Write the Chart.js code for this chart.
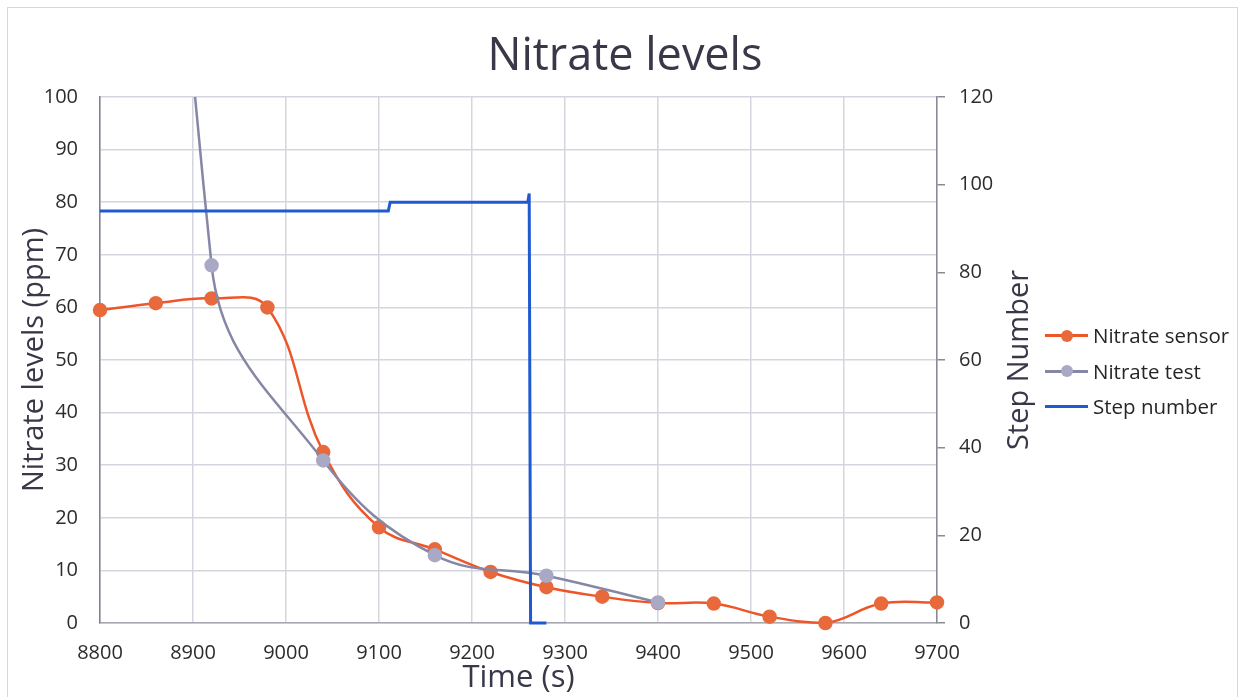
<!DOCTYPE html>
<html>
<head>
<meta charset="utf-8">
<title>Nitrate levels</title>
<script src="https://cdn.jsdelivr.net/npm/chart.js@4.4.1/dist/chart.umd.min.js"></script>
<style>
  html, body { margin: 0; padding: 0; background: #fff; }
  #wrap { position: relative; width: 1242px; height: 697px; overflow: hidden; }
  #frame { position: absolute; left: 7px; top: 7px; width: 1231px; height: 720px;
           border: 1.5px solid #d8d8dc; box-sizing: border-box; pointer-events: none; }
  canvas { position: absolute; left: 0; top: 0; }
  #legend { position: absolute; left: 1045px; top: 0; width: 197px;
            font-family: "Open Sans", "Liberation Sans", sans-serif; font-size: 20.5px; color: #262626; }
  .item { position: absolute; left: 0; height: 26px; width: 197px; white-space: nowrap; }
  .sym { position: absolute; left: 0; top: 12px; width: 43px; height: 3px; }
  .dot { position: absolute; left: 16px; top: 7.5px; width: 12px; height: 12px; border-radius: 50%; }
  .lbl { position: absolute; left: 48px; top: 0; line-height: 26px; }
</style>
</head>
<body>
<div id="wrap">
  <canvas id="chart" width="1242" height="697"></canvas>
  <div id="frame"></div>
  <div id="legend"></div>
</div>
<script>
// Nitrate sensor readings, every 60 s
const sensorTime = [8800, 8860, 8920, 8980, 9040, 9100, 9160, 9220, 9280, 9340, 9400, 9460, 9520, 9580, 9640, 9700];
const sensorNitrate = [59.5, 60.8, 61.7, 60.0, 32.5, 18.2, 14.0, 9.7, 6.8, 5.0, 3.8, 3.7, 1.2, 0.0, 3.7, 3.9];

// Manual nitrate test results, every 120 s
const testTime = [8800, 8920, 9040, 9160, 9280, 9400];
const testNitrate = [440, 68, 30.9, 12.9, 9.0, 3.9];

// Process step number (right axis)
const stepTime = [8800, 9110, 9112, 9260, 9261.5, 9263, 9280];
const stepNumber = [94, 94, 96, 96, 98, 0, 0];

// Axis ranges
const xRange = [8800, 9700, 100];
const leftRange = [0, 100, 10];
const rightRange = [0, 120, 20];

const FONT = '"Open Sans", "Liberation Sans", sans-serif';
const SENSOR_LINE = '#ee5528', SENSOR_DOT = '#e8693b';
const TEST_LINE = '#8686a6', TEST_DOT = '#a9a9c5';
const STEP_LINE = '#1f5ad0';
const GRID = '#d5d5e0';
const TICK_TEXT = '#2c2c2c';
const TITLE_TEXT = '#383848';

const pairs = (xs, ys) => xs.map((x, i) => ({ x: x, y: ys[i] }));

// Right-hand axis title reads bottom-to-top, like the left one
const rightTitle = {
  id: 'rightTitle',
  afterDraw(chart) {
    const { ctx, chartArea } = chart;
    ctx.save();
    ctx.translate(chartArea.right + 83, (chartArea.top + chartArea.bottom) / 2);
    ctx.rotate(-Math.PI / 2);
    ctx.font = '29px ' + FONT;
    ctx.fillStyle = TITLE_TEXT;
    ctx.textAlign = 'center';
    ctx.textBaseline = 'middle';
    ctx.fillText('Step Number', 0, 0);
    ctx.restore();
  }
};

const chart = new Chart(document.getElementById('chart'), {
  type: 'line',
  data: {
    datasets: [
      {
        label: 'Nitrate sensor',
        data: pairs(sensorTime, sensorNitrate),
        yAxisID: 'y',
        borderColor: SENSOR_LINE,
        backgroundColor: SENSOR_DOT,
        pointBackgroundColor: SENSOR_DOT,
        pointBorderColor: SENSOR_DOT,
        pointRadius: 6,
        borderWidth: 2.5,
        tension: 0.4,
        clip: false,
        order: 3
      },
      {
        label: 'Nitrate test',
        data: pairs(testTime, testNitrate),
        yAxisID: 'y',
        borderColor: TEST_LINE,
        backgroundColor: TEST_DOT,
        pointBackgroundColor: TEST_DOT,
        pointBorderColor: TEST_DOT,
        pointRadius: 6,
        borderWidth: 2.5,
        tension: 0.4,
        capBezierPoints: false,
        clip: { left: false, top: 0, right: false, bottom: false },
        order: 2
      },
      {
        label: 'Step number',
        data: pairs(stepTime, stepNumber),
        yAxisID: 'y2',
        borderColor: STEP_LINE,
        backgroundColor: STEP_LINE,
        pointRadius: 0,
        borderWidth: 3,
        tension: 0,
        clip: false,
        order: 1
      }
    ]
  },
  options: {
    responsive: false,
    animation: false,
    events: [],
    layout: { padding: { left: 8, right: 0, top: 0, bottom: 0 } },
    plugins: {
      legend: { display: false },
      tooltip: { enabled: false },
      title: {
        display: true,
        text: 'Nitrate levels',
        color: TITLE_TEXT,
        font: { family: FONT, size: 45, weight: 'normal', lineHeight: 1.2 },
        padding: { top: 30, bottom: 13 }
      }
    },
    scales: {
      x: {
        type: 'linear',
        min: xRange[0], max: xRange[1],
        ticks: {
          stepSize: xRange[2],
          color: TICK_TEXT,
          font: { family: FONT, size: 20 },
          padding: 18,
          maxRotation: 0,
          autoSkip: false,
          callback: v => String(v)
        },
        grid: { color: GRID, lineWidth: 1.5, drawTicks: false },
        border: { color: '#a8a8b2', width: 1.5 },
        title: {
          display: true, text: 'Time (s)', color: TITLE_TEXT,
          font: { family: FONT, size: 31 }, padding: { top: 0, bottom: 0 }
        },
        afterFit: s => { s.height = 74; }
      },
      y: {
        position: 'left',
        min: leftRange[0], max: leftRange[1],
        ticks: {
          stepSize: leftRange[2],
          color: TICK_TEXT,
          font: { family: FONT, size: 20 },
          padding: 22
        },
        grid: { color: GRID, lineWidth: 1.5, drawTicks: false },
        border: { color: '#80808e', width: 1.5 },
        title: {
          display: true, text: 'Nitrate levels (ppm)', color: TITLE_TEXT,
          font: { family: FONT, size: 29 }, padding: { top: 9, bottom: 0 }
        },
        afterFit: s => { s.width = 92; }
      },
      y2: {
        position: 'right',
        min: rightRange[0], max: rightRange[1],
        ticks: {
          stepSize: rightRange[2],
          color: TICK_TEXT,
          font: { family: FONT, size: 20 },
          padding: 14
        },
        grid: { drawOnChartArea: false, drawTicks: true, tickLength: 8, color: '#8a8a94', lineWidth: 1.5 },
        border: { color: '#8a8a94', width: 1.5 },
        afterFit: s => { s.width = 305; }
      }
    }
  },
  plugins: [rightTitle]
});

// Legend: line-with-marker symbols beside each series name
const legendItems = [
  { text: 'Nitrate sensor', line: SENSOR_LINE, dot: SENSOR_DOT, cy: 335 },
  { text: 'Nitrate test', line: TEST_LINE, dot: TEST_DOT, cy: 370.5 },
  { text: 'Step number', line: STEP_LINE, dot: null, cy: 406 }
];
const legend = document.getElementById('legend');
legendItems.forEach(it => {
  const row = document.createElement('div');
  row.className = 'item';
  row.style.top = (it.cy - 13) + 'px';
  const sym = document.createElement('div');
  sym.className = 'sym';
  sym.style.background = it.line;
  row.appendChild(sym);
  if (it.dot) {
    const dot = document.createElement('div');
    dot.className = 'dot';
    dot.style.background = it.dot;
    row.appendChild(dot);
  }
  const lbl = document.createElement('span');
  lbl.className = 'lbl';
  lbl.textContent = it.text;
  row.appendChild(lbl);
  legend.appendChild(row);
});
</script>
</body>
</html>
